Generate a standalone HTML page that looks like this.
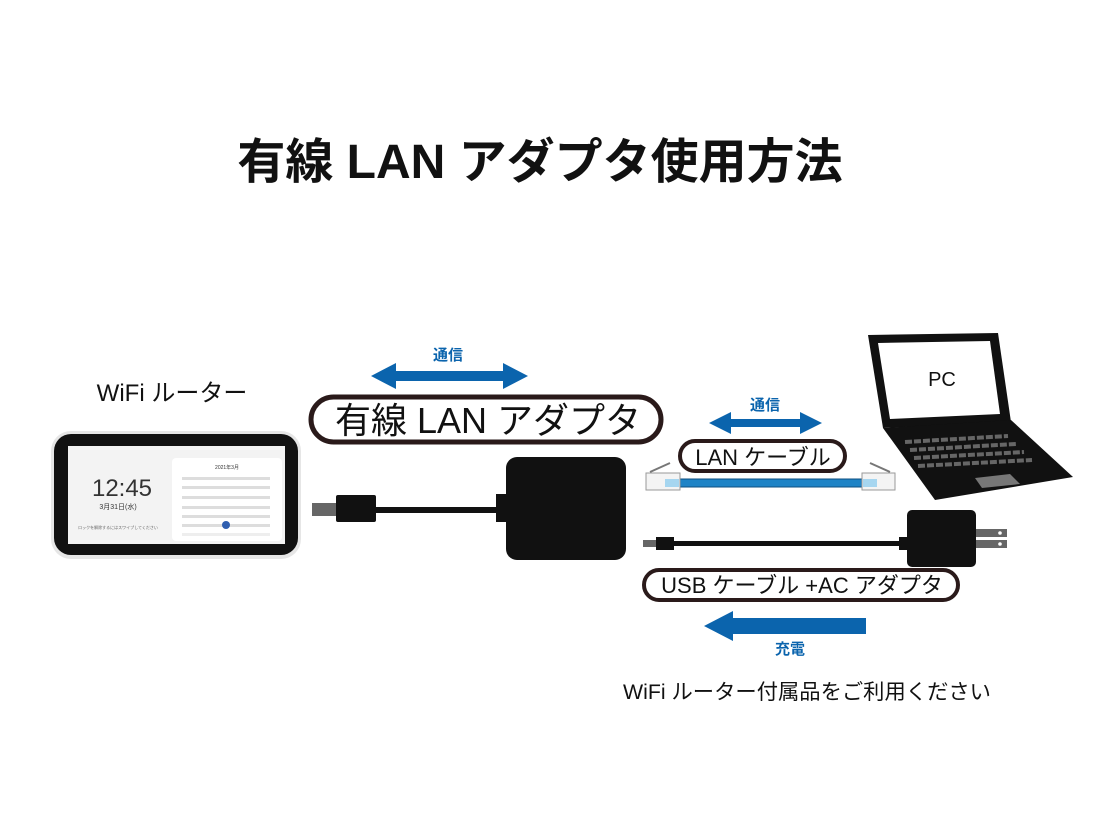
<!DOCTYPE html>
<html><head><meta charset="utf-8"><style>
html,body{margin:0;padding:0;background:#fff;}
svg{display:block;}
text{font-family:"Liberation Sans","Noto Sans CJK JP",sans-serif;}
</style></head><body>
<svg width="1102" height="827" viewBox="0 0 1102 827" xmlns="http://www.w3.org/2000/svg">
<rect width="1102" height="827" fill="#fff"/>
<text x="540" y="178" font-size="48" font-weight="bold" text-anchor="middle" fill="#111">有線 LAN アダプタ使用方法</text>

<text x="172" y="401" font-size="24" text-anchor="middle" fill="#111">WiFi ルーター</text>
<!-- router -->
<rect x="51" y="431" width="250" height="128" rx="20" fill="#e6e6e6"/>
<rect x="54" y="434" width="244" height="121" rx="17" fill="#111"/>
<rect x="68" y="446" width="217" height="98" fill="#f3f3f3"/>
<rect x="172" y="458" width="110" height="83" rx="4" fill="#fff"/>
<text x="122" y="496" font-size="24" text-anchor="middle" fill="#333">12:45</text>
<text x="118" y="509" font-size="7" text-anchor="middle" fill="#333">3月31日(水)</text>
<text x="118" y="529" font-size="4" text-anchor="middle" fill="#666">ロックを解除するにはスワイプしてください</text>
<text x="227" y="469" font-size="5" text-anchor="middle" fill="#333">2021年3月</text>
<g fill="#ddd">
<rect x="182" y="477" width="88" height="3"/>
<rect x="182" y="486" width="88" height="3"/>
<rect x="182" y="496" width="88" height="3"/>
<rect x="182" y="506" width="88" height="3"/>
<rect x="182" y="515" width="88" height="3"/>
<rect x="182" y="524" width="88" height="3"/>
<rect x="182" y="533" width="88" height="3" fill="#eee"/>
</g>
<circle cx="226" cy="525" r="4" fill="#2f5fb0"/>

<!-- top arrow -->
<text x="448" y="360" font-size="15" font-weight="bold" text-anchor="middle" fill="#0b64ad">通信</text>
<path d="M371 376 L396 363 L396 371 L503 371 L503 363 L528 376 L503 389 L503 381 L396 381 L396 389 Z" fill="#0b64ad"/>
<rect x="311" y="397" width="350" height="45" rx="22.5" fill="#fff" stroke="#2a1a1a" stroke-width="5"/>
<text x="488" y="433" font-size="36" text-anchor="middle" fill="#111">有線 LAN アダプタ</text>

<!-- adapter -->
<rect x="312" y="503" width="26" height="13" fill="#666"/>
<rect x="336" y="495" width="40" height="27" rx="2" fill="#111"/>
<rect x="374" y="507" width="126" height="6" fill="#111"/>
<rect x="496" y="494" width="12" height="28" fill="#111"/>
<rect x="506" y="457" width="120" height="103" rx="11" fill="#111"/>

<!-- LAN -->
<text x="765" y="410" font-size="15" font-weight="bold" text-anchor="middle" fill="#0b64ad">通信</text>
<path d="M709 423 L731 412 L731 419 L800 419 L800 412 L822 423 L800 434 L800 427 L731 427 L731 434 Z" fill="#0b64ad"/>
<rect x="680" y="441" width="165" height="30" rx="15" fill="#fff" stroke="#2a1a1a" stroke-width="4"/>
<text x="763" y="465" font-size="22" text-anchor="middle" fill="#111">LAN ケーブル</text>
<rect x="678" y="479" width="186" height="8" fill="#1e83c6" stroke="#0d4f80" stroke-width="1"/>
<rect x="646" y="473" width="34" height="17" fill="#f4f4f4" stroke="#999" stroke-width="1"/>
<rect x="665" y="479" width="14" height="8" fill="#a6d6f0"/>
<line x1="650" y1="472" x2="670" y2="463" stroke="#777" stroke-width="2"/>
<rect x="862" y="473" width="33" height="17" fill="#f4f4f4" stroke="#999" stroke-width="1"/>
<rect x="863" y="479" width="14" height="8" fill="#a6d6f0"/>
<line x1="890" y1="472" x2="870" y2="463" stroke="#777" stroke-width="2"/>

<!-- laptop -->
<path d="M868 335 L998 333 L1011 422 L883 428 Z" fill="#111"/>
<path d="M878 343 L990 341 L1000 414 L890 419 Z" fill="#fff"/>
<text x="942" y="386" font-size="20" text-anchor="middle" fill="#111">PC</text>
<path d="M883 428 L1011 420 L1073 477 L935 500 Z" fill="#111"/>
<g stroke="#666" stroke-width="4" stroke-dasharray="7 2">
<line x1="905" y1="442" x2="1008" y2="436"/>
<line x1="910" y1="450" x2="1016" y2="444"/>
<line x1="914" y1="458" x2="1024" y2="452"/>
<line x1="918" y1="466" x2="1032" y2="460"/>
</g>
<path d="M975 478 L1010 474 L1020 484 L982 488 Z" fill="#777"/>

<!-- USB + AC -->
<rect x="643" y="540" width="14" height="7" fill="#666"/>
<rect x="656" y="537" width="18" height="13" fill="#111"/>
<rect x="672" y="541" width="234" height="5" fill="#111"/>
<rect x="899" y="537" width="10" height="13" fill="#111"/>
<rect x="907" y="510" width="69" height="57" rx="5" fill="#111"/>
<rect x="976" y="529" width="31" height="8" fill="#666"/>
<rect x="976" y="540" width="31" height="8" fill="#666"/>
<circle cx="1000" cy="533" r="1.8" fill="#fff"/>
<circle cx="1000" cy="544" r="1.8" fill="#fff"/>
<rect x="644" y="570" width="314" height="30" rx="15" fill="#fff" stroke="#2a1a1a" stroke-width="4"/>
<text x="802" y="593" font-size="22" text-anchor="middle" fill="#111">USB ケーブル +AC アダプタ</text>

<path d="M704 626 L733 611 L733 618 L866 618 L866 634 L733 634 L733 641 Z" fill="#0b64ad"/>
<text x="790" y="654" font-size="15" font-weight="bold" text-anchor="middle" fill="#0b64ad">充電</text>

<text x="807" y="699" font-size="21.3" text-anchor="middle" fill="#111">WiFi ルーター付属品をご利用ください</text>
</svg>
</body></html>
